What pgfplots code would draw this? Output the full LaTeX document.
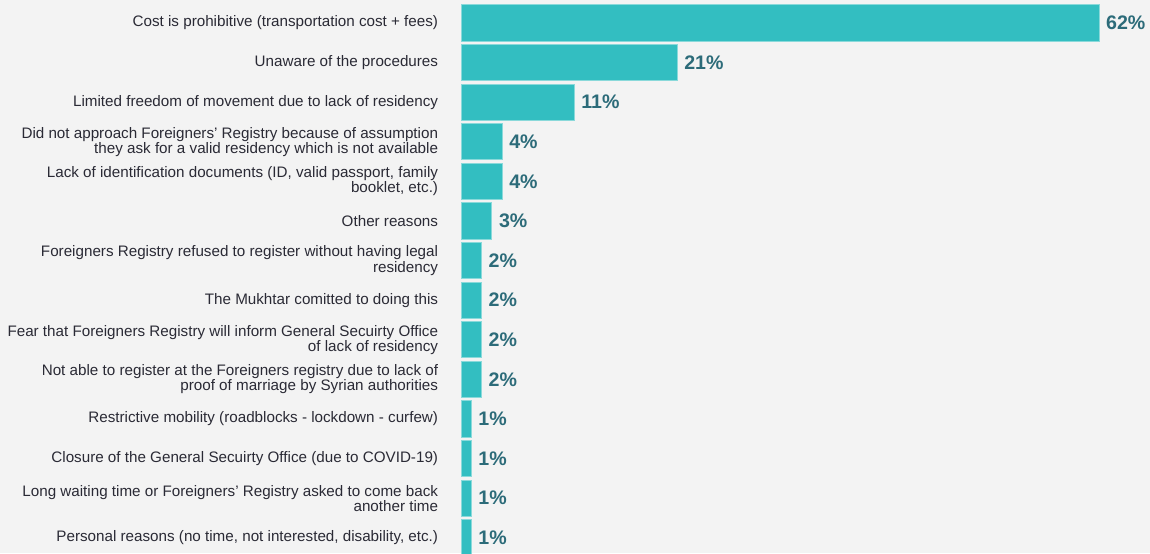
\documentclass[border=0pt]{standalone}
\usepackage{fontspec}
\setmainfont{Liberation Sans}
\usepackage{pgfplots}
\pgfplotsset{compat=1.18}
\definecolor{bgray}{HTML}{F3F3F3}
\definecolor{barteal}{HTML}{33BEC1}
\definecolor{baredge}{HTML}{8AD9DA}
\definecolor{valteal}{HTML}{2C6B79}
\definecolor{labtext}{HTML}{2A2A35}

\begin{document}
\begin{tikzpicture}
\useasboundingbox (0,0) rectangle (575pt,-276.5pt);
\fill[bgray] (0,0) rectangle (575pt,-276.5pt);
\clip (0,0) rectangle (575pt,-276.5pt);
\begin{axis}[
    at={(230.5pt,-1.6pt)},
    anchor=north west,
    scale only axis,
    width=319pt,
    height=277.2pt,
    xbar,
    bar width=0.91,
    xmin=0, xmax=62,
    ymin=-0.5, ymax=13.5,
    y dir=reverse,
    enlargelimits=false,
    clip=false,
    axis line style={draw=none},
    major tick style={draw=none},
    xtick=\empty,
    ytick={0,...,13},
    yticklabels={
        {Cost is prohibitive (transportation cost + fees)},
        {Unaware of the procedures},
        {Limited freedom of movement due to lack of residency},
        {Did not approach Foreigners' Registry because of assumption\\they ask for a valid residency which is not available},
        {Lack of identification documents (ID, valid passport, family\\booklet, etc.)},
        {Other reasons},
        {Foreigners Registry refused to register without having legal\\residency},
        {The Mukhtar comitted to doing this},
        {Fear that Foreigners Registry will inform General Secuirty Office\\of lack of residency},
        {Not able to register at the Foreigners registry due to lack of\\proof of marriage by Syrian authorities},
        {Restrictive mobility (roadblocks - lockdown - curfew)},
        {Closure of the General Secuirty Office (due to COVID-19)},
        {Long waiting time or Foreigners' Registry asked to come back\\another time},
        {Personal reasons (no time, not interested, disability, etc.)},
    },
    yticklabel style={align=right, font=\fontsize{7.6}{7.6}\selectfont,
        text=labtext, inner sep=0pt, xshift=-7pt},
    point meta=x,
    nodes near coords={\pgfmathprintnumber{\pgfplotspointmeta}\%},
    nodes near coords style={anchor=west, xshift=0pt,
        font=\bfseries\fontsize{9.8}{10}\selectfont, text=valteal,
        /pgf/number format/assume math mode=true},
]
\addplot[fill=barteal, draw=baredge, line width=0.5pt] coordinates {
    (62,0) (21,1) (11,2) (4,3) (4,4) (3,5) (2,6)
    (2,7) (2,8) (2,9) (1,10) (1,11) (1,12) (1,13)
};
\end{axis}
\end{tikzpicture}
\end{document}
